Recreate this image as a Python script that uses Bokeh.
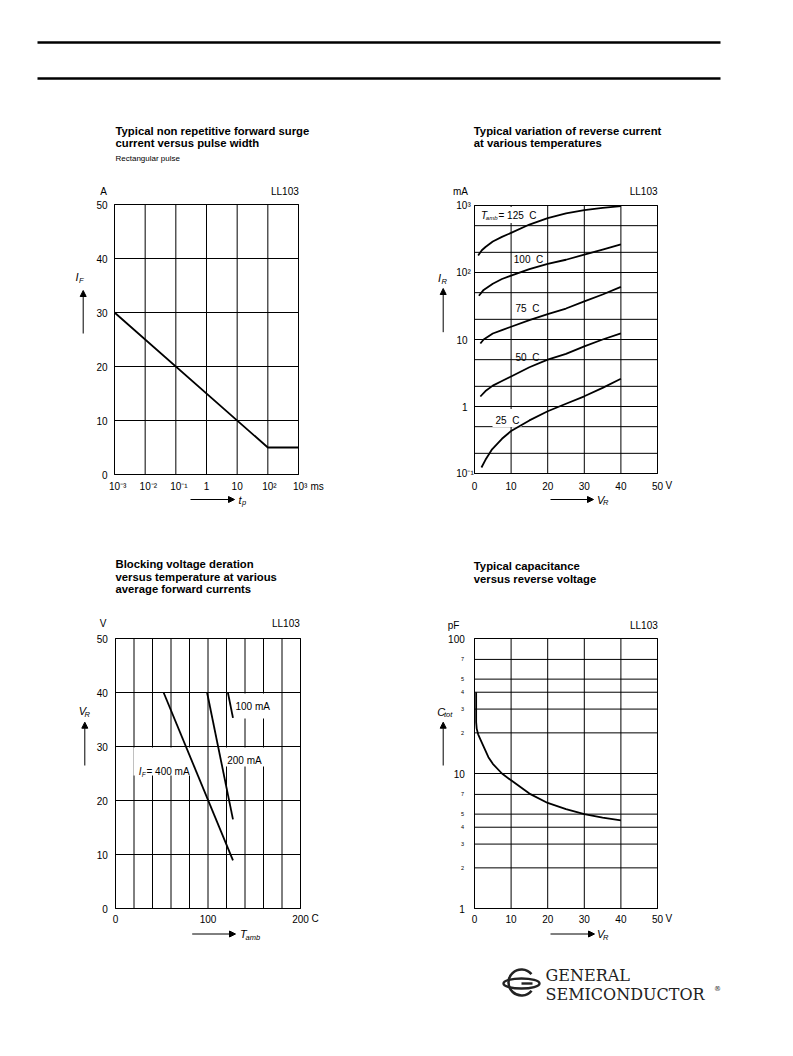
import math
from bokeh.plotting import figure
from bokeh.models import Range1d, LogScale, Arrow, NormalHead
from bokeh.core.properties import value
from bokeh.embed import file_html
from bokeh.resources import INLINE

# ------------------------------------------------------------------ data
# 1) Typical non repetitive forward surge current versus pulse width
surge_tp_ms = [1e-3, 1e2, 1e3]
surge_if_a = [30, 5, 5]
surge_x_ticks = [1e-3, 1e-2, 1e-1, 1, 10, 1e2, 1e3]
surge_x_labels = ["10⁻³", "10⁻²", "10⁻¹", "1", "10", "10²", "10³"]
surge_y_ticks = [0, 10, 20, 30, 40, 50]
surge_y_labels = ["0", "10", "20", "30", "40", "50"]

# 2) Typical variation of reverse current at various temperatures (mA vs V)
ir_125_vr = [1.0, 2, 3, 5, 7.5, 10, 15, 20, 25, 30, 35, 40]
ir_125_ma = [180, 215, 240, 290, 340, 390, 520, 650, 760, 850, 920, 980]
ir_100_vr = [1.2, 2.5, 5, 7.5, 10, 15, 20, 25, 30, 35, 40]
ir_100_ma = [45, 55, 68, 80, 90, 112, 135, 155, 185, 220, 262]
ir_75_vr = [1.6, 2.5, 5, 7.5, 10, 15, 20, 25, 30, 35, 40]
ir_75_ma = [8.7, 10, 12.3, 13.8, 15.5, 19.5, 24, 29, 37, 47, 61]
ir_50_vr = [1.6, 3, 5, 7.5, 10, 15, 20, 25, 30, 35, 40]
ir_50_ma = [1.41, 1.7, 2.05, 2.4, 2.8, 3.85, 5.0, 6.1, 7.9, 10, 12.3]
ir_25_vr = [1.9, 3, 4.8, 7.5, 10, 15, 20, 25, 30, 35, 40]
ir_25_ma = [0.123, 0.16, 0.23, 0.33, 0.43, 0.62, 0.85, 1.1, 1.42, 1.9, 2.6]
ir_x_ticks = [0, 10, 20, 30, 40, 50]
ir_x_labels = ["0", "10", "20", "30", "40", "50"]
ir_y_ticks = [0.1, 1, 10, 100, 1000]
ir_y_labels = ["10⁻¹", "1", "10", "10²", "10³"]
ir_y_grid = [0.1, 0.2, 0.5, 1, 2, 5, 10, 20, 50, 100, 200, 500, 1000]

# 3) Blocking voltage deration versus temperature (V vs °C)
vr_400_t = [52, 127]
vr_400_v = [40, 8.9]
vr_200_t = [99, 127]
vr_200_v = [40, 16.5]
vr_100_t = [121.5, 127]
vr_100_v = [40, 35.3]
vr_x_ticks = [0, 100, 200]
vr_x_labels = ["0", "100", "200"]
vr_x_grid = [0, 20, 40, 60, 80, 100, 120, 140, 160, 180, 200]
vr_y_ticks = [0, 10, 20, 30, 40, 50]
vr_y_labels = ["0", "10", "20", "30", "40", "50"]

# 4) Typical capacitance versus reverse voltage (pF vs V)
cap_vr = [0.45, 0.45, 0.6, 1.0, 1.6, 2.5, 3.8, 5, 7.5, 10, 15, 20, 25, 30, 35, 40]
cap_pf = [40, 24, 21.5, 19.5, 17.9, 15.8, 13.2, 11.8, 10, 8.9, 7.1, 6.05, 5.45, 5.0, 4.72, 4.5]
cap_x_ticks = [0, 10, 20, 30, 40, 50]
cap_x_labels = ["0", "10", "20", "30", "40", "50"]
cap_y_ticks = [1, 10, 100]
cap_y_labels = ["1", "10", "100"]
cap_y_grid = [1, 2, 3, 4, 5, 7, 10, 20, 30, 40, 50, 70, 100]
cap_y_minor = [2, 3, 4, 5, 7, 20, 30, 40, 50, 70]
cap_y_minor_labels = ["2", "3", "4", "5", "7", "2", "3", "4", "5", "7"]

# ------------------------------------------------------------------ page figure
W, H = 793, 1056
FONT = "Liberation Sans"
NB = "\u00a0"
CW = 1.8

p = figure(width=W, height=H, x_range=Range1d(0, W), y_range=Range1d(H, 0),
           x_axis_type=None, y_axis_type=None, min_border=0,
           output_backend="svg", toolbar_location=None)
p.outline_line_color = None
p.background_fill_color = "white"
p.border_fill_color = "white"

# chart frames on the page (left, right, top, bottom pixels) and data ranges
charts = {
    "c1": dict(frame=(114, 298, 204, 474), xr=(1e-3, 1e3), yr=(0, 50), xlog=True, ylog=False),
    "c2": dict(frame=(474, 657, 205, 473), xr=(0, 50), yr=(0.1, 1000), xlog=False, ylog=True),
    "c3": dict(frame=(115, 300, 638, 908), xr=(0, 200), yr=(0, 50), xlog=False, ylog=False),
    "c4": dict(frame=(474, 657, 638, 908), xr=(0, 50), yr=(1, 100), xlog=False, ylog=True),
}


def interp(f, a, b, log):
    if log:
        la, lb = math.log10(a), math.log10(b)
        return 10 ** (la + f * (lb - la))
    return a + f * (b - a)


xr_d, yr_d, xs_d, ys_d = {}, {}, {}, {}
for name, c in charts.items():
    fx0, fx1, fy0, fy1 = c["frame"]
    xr_d[name + "x"] = Range1d(interp((0 - fx0) / (fx1 - fx0), *c["xr"], c["xlog"]),
                               interp((W - fx0) / (fx1 - fx0), *c["xr"], c["xlog"]))
    yr_d[name + "y"] = Range1d(interp((fy1 - H) / (fy1 - fy0), *c["yr"], c["ylog"]),
                               interp((fy1 - 0) / (fy1 - fy0), *c["yr"], c["ylog"]))
    if c["xlog"]:
        xs_d[name + "x"] = LogScale()
    if c["ylog"]:
        ys_d[name + "y"] = LogScale()
p.extra_x_ranges = xr_d
p.extra_y_ranges = yr_d
p.extra_x_scales = xs_d
p.extra_y_scales = ys_d


def rn(c):
    return dict(x_range_name=c + "x", y_range_name=c + "y")


def grid(c, xgrid, ygrid):
    xa, xb = charts[c]["xr"]
    ya, yb = charts[c]["yr"]
    p.segment(x0=xgrid, y0=[ya] * len(xgrid), x1=xgrid, y1=[yb] * len(xgrid),
              line_color="black", line_width=1, **rn(c))
    p.segment(x0=[xa] * len(ygrid), y0=ygrid, x1=[xb] * len(ygrid), y1=ygrid,
              line_color="black", line_width=1, **rn(c))
    p.quad(left=[xa], right=[xb], bottom=[ya], top=[yb], fill_color=None,
           line_color="black", line_width=1, **rn(c))


def curve(c, xs, ys):
    p.line(xs, ys, line_width=CW, line_color="black", line_join="round", **rn(c))


def tstyle(size, style, align):
    return dict(text_font=value(FONT), text_font_size=f"{size}px", text_font_style=style,
                text_align=align, text_baseline="middle", text_color="black")


def xtick_text(c, ticks, labels, py, sup_shift=5.6):
    plain = [(t, s) for t, s in zip(ticks, labels) if len(s) <= 2]
    sup = [(t, s) for t, s in zip(ticks, labels) if len(s) > 2]
    for grp, align, off in [(plain, "center", 0), (sup, "left", -sup_shift)]:
        if grp:
            p.text(x=[t for t, _ in grp], y=[py] * len(grp), text=[s for _, s in grp],
                   x_offset=off, x_range_name=c + "x", **tstyle(10, "normal", align))


def xtick_text_plain(c, ticks, labels, py):
    p.text(x=ticks, y=[py] * len(ticks), text=labels, x_range_name=c + "x",
           **tstyle(10, "normal", "center"))


def ytick_text(c, ticks, labels, px, size=10, sup_left=None):
    plain = [(t, s) for t, s in zip(ticks, labels) if sup_left is None or len(s) <= 2]
    sup = [(t, s) for t, s in zip(ticks, labels) if sup_left is not None and len(s) > 2]
    if plain:
        p.text(x=[px] * len(plain), y=[t for t, _ in plain], text=[s for _, s in plain],
               y_range_name=c + "y", **tstyle(size, "normal", "right"))
    if sup:
        p.text(x=[sup_left] * len(sup), y=[t for t, _ in sup], text=[s for _, s in sup],
               y_range_name=c + "y", **tstyle(size, "normal", "left"))


def txt(px, py, s, size=10, style="normal", align="left"):
    p.text(x=[px], y=[py], text=[s], **tstyle(size, style, align))


def arrow(px0, py0, px1, py1):
    p.add_layout(Arrow(end=NormalHead(size=6, fill_color="black", line_color="black",
                                      line_width=1),
                       x_start=px0, y_start=py0, x_end=px1, y_end=py1,
                       line_width=1, line_color="black"))


def mask(px0, py0, px1, py1):
    p.quad(left=[px0], right=[px1], top=[py0], bottom=[py1],
           fill_color="white", line_color=None)


def titles(px, py, lines, step=12.6):
    for i, t in enumerate(lines):
        txt(px, py + i * step, t, size=11.3, style="bold")


# ------------------------------------------------------------------ header rules
p.segment(x0=[37, 37], y0=[42, 78], x1=[720, 720], y1=[42, 78],
          line_width=2.6, line_color="black")

# ------------------------------------------------------------------ chart 1
grid("c1", surge_x_ticks, surge_y_ticks)
curve("c1", surge_tp_ms, surge_if_a)
xtick_text("c1", surge_x_ticks, surge_x_labels, 485.7)
ytick_text("c1", surge_y_ticks, surge_y_labels, 107)
titles(115, 130, ["Typical non repetitive forward surge", "current versus pulse width"])
txt(115, 158.3, "Rectangular pulse", size=8)
txt(103, 191, "A", align="center")
txt(298.3, 191, "LL103", align="right")
txt(310, 485.7, "ms")
txt(76.5, 276, "I", size=11, style="italic", align="center")
txt(78.5, 279.5, "F", size=7.5, style="italic")
arrow(82.7, 333, 82.7, 290)
arrow(190, 499, 234, 499)
txt(238, 499, "t", size=11, style="italic")
txt(241.5, 502, "p", size=7.5, style="italic")

# ------------------------------------------------------------------ chart 2
grid("c2", ir_x_ticks, ir_y_grid)
mask(477, 206.5, 541, 222.5)
mask(492, 408.5, 521, 426.5)
for xs, ys in [(ir_125_vr, ir_125_ma), (ir_100_vr, ir_100_ma), (ir_75_vr, ir_75_ma),
               (ir_50_vr, ir_50_ma), (ir_25_vr, ir_25_ma)]:
    curve("c2", xs, ys)
xtick_text_plain("c2", ir_x_ticks, ir_x_labels, 485)
ytick_text("c2", ir_y_ticks, ir_y_labels, 467, sup_left=455.8)
titles(473.3, 130, ["Typical variation of reverse current", "at various temperatures"])
txt(460, 190.7, "mA", align="center")
txt(657, 190.7, "LL103", align="right")
txt(665, 485, "V")
txt(480.5, 215, "T", size=10, style="italic")
txt(485.3, 217.5, "amb", size=6, style="italic")
txt(498, 215, "= 125" + NB + NB + "C")
txt(513.3, 258.5, "100" + NB + NB + "C")
txt(515, 308.3, "75" + NB + NB + "C")
txt(515, 357.3, "50" + NB + NB + "C")
txt(495, 420, "25" + NB + NB + "C")
txt(439, 277, "I", size=11, style="italic", align="center")
txt(441, 280.5, "R", size=7.5, style="italic")
arrow(442.7, 331.7, 442.7, 288)
arrow(550, 499, 593, 499)
txt(596.5, 499, "V", size=11, style="italic")
txt(602.5, 502, "R", size=7.5, style="italic")

# ------------------------------------------------------------------ chart 3
grid("c3", vr_x_grid, vr_y_ticks)
mask(232, 693, 271, 718)
mask(224, 747, 268, 766)
mask(133, 747, 193, 775)
for xs, ys in [(vr_400_t, vr_400_v), (vr_200_t, vr_200_v), (vr_100_t, vr_100_v)]:
    curve("c3", xs, ys)
xtick_text_plain("c3", vr_x_ticks, vr_x_labels, 918)
ytick_text("c3", vr_y_ticks, vr_y_labels, 107.3)
titles(115, 563.5, ["Blocking voltage deration", "versus temperature at various",
                    "average forward currents"])
txt(102.5, 623.3, "V", align="center")
txt(299.3, 623.3, "LL103", align="right")
txt(311, 918, "C")
txt(235, 705.7, "100 mA")
txt(226.7, 760, "200 mA")
txt(138.3, 770.7, "I", size=10, style="italic")
txt(141.3, 773.5, "F", size=6.5, style="italic")
txt(146, 770.7, "= 400 mA")
txt(78.3, 710.5, "V", size=11, style="italic")
txt(84, 713.5, "R", size=7.5, style="italic")
arrow(84.3, 765, 84.3, 721.7)
arrow(191.7, 933.5, 235, 933.5)
txt(239.5, 933.5, "T", size=11, style="italic")
txt(245, 936.5, "amb", size=7.5, style="italic")

# ------------------------------------------------------------------ chart 4
grid("c4", cap_x_ticks, cap_y_grid)
curve("c4", cap_vr, cap_pf)
xtick_text_plain("c4", cap_x_ticks, cap_x_labels, 918.3)
ytick_text("c4", cap_y_ticks, cap_y_labels, 464.3)
ytick_text("c4", cap_y_minor, cap_y_minor_labels, 463.5, size=5.5)
titles(473.3, 565.5, ["Typical capacitance", "versus reverse voltage"])
txt(453, 625, "pF", align="center")
txt(657.3, 625, "LL103", align="right")
txt(665, 918.3, "V")
txt(436.7, 711, "C", size=11, style="italic")
txt(443.5, 714, "tot", size=7.5, style="italic")
arrow(442.7, 765, 442.7, 721.7)
arrow(550, 933.5, 594, 933.5)
txt(596.5, 933.5, "V", size=11, style="italic")
txt(602.5, 936.5, "R", size=7.5, style="italic")

# ------------------------------------------------------------------ logo
p.ellipse(x=[521], y=[983], width=[36], height=[10], fill_color=None,
          line_color="#222222", line_width=2.4)
p.arc(x=[521], y=[982], radius=[13], start_angle=0.7, end_angle=5.6,
      line_color="#222222", line_width=2.6)
p.segment(x0=[521], y0=[983], x1=[532], y1=[983], line_color="#222222", line_width=2.4)
for s, px, py in [("GENERAL", 545, 975), ("SEMICONDUCTOR", 545, 994)]:
    p.text(x=[px], y=[py], text=[s], text_font=value("DejaVu Serif"), text_font_size="16px",
           text_align="left", text_baseline="middle", text_color="#222222")
p.text(x=[717], y=[988], text=["®"], text_font=value("DejaVu Serif"), text_font_size="7px",
       text_align="center", text_baseline="middle", text_color="#222222")

open("out.html", "w").write(file_html(p, INLINE))
